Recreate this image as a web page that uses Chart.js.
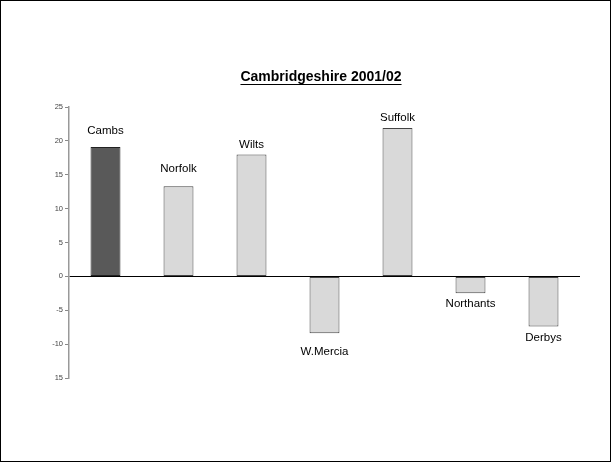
<!DOCTYPE html>
<html>
<head>
<meta charset="utf-8">
<script src="https://cdn.jsdelivr.net/npm/chart.js@4"></script>
<style>
  html, body { margin: 0; padding: 0; background: #fff; }
  #wrap { width: 611px; height: 462px; }
</style>
</head>
<body>
<div id="wrap"><canvas id="chart" width="611" height="462"></canvas></div>
<script>
// chart data
const forces = ['Cambs', 'Norfolk', 'Wilts', 'W.Mercia', 'Suffolk', 'Northants', 'Derbys'];
const values = [19.1, 13.3, 18.0, -8.4, 21.9, -2.5, -7.4];
const tickValues = [25, 20, 15, 10, 5, 0, -5, -10, -15];
const tickLabels = ['25', '20', '15', '10', '5', '0', '-5', '-10', '15'];
const chartTitle = 'Cambridgeshire 2001/02';

// gap between bar end and label centre (px)
const labelGaps = [16, 17, 10, 19, 10, 11, 11];

const decor = {
  id: 'decor',
  afterDatasetsDraw(chart) {
    const { ctx } = chart;
    const meta = chart.getDatasetMeta(0);
    ctx.save();
    ctx.font = '11.5px "Liberation Sans", Arial, sans-serif';
    ctx.fillStyle = '#000';
    ctx.textAlign = 'center';
    ctx.textBaseline = 'middle';
    meta.data.forEach((bar, i) => {
      const up = values[i] >= 0;
      const y = up ? bar.y - labelGaps[i] : bar.y + labelGaps[i];
      ctx.fillText(forces[i], bar.x, y);
    });
    // title with underline
    ctx.font = 'bold 14px "Liberation Sans", Arial, sans-serif';
    const cx = 321;
    ctx.fillText(chartTitle, cx, 77);
    const w = ctx.measureText(chartTitle).width;
    ctx.fillRect(cx - w / 2, 84, w, 1);
    // outer frame
    ctx.strokeStyle = '#000';
    ctx.lineWidth = 1;
    ctx.strokeRect(0.5, 0.5, chart.width - 1, chart.height - 1);
    ctx.restore();
  }
};

new Chart(document.getElementById('chart'), {
  type: 'bar',
  data: {
    labels: forces,
    datasets: [{
      data: values,
      backgroundColor: forces.map((f, i) => i === 0 ? '#595959' : '#d9d9d9'),
      borderColor: forces.map((f, i) => i === 0 ? '#222' : '#444'),
      borderWidth: 1,
      borderSkipped: false,
      categoryPercentage: 1,
      barPercentage: 0.41
    }]
  },
  options: {
    responsive: false,
    animation: false,
    layout: { padding: { top: 107, left: 0, right: 31, bottom: 84 } },
    scales: {
      x: { display: false },
      y: {
        min: -15, max: 25,
        afterFit: s => { s.width = 69; },
        afterBuildTicks: s => { s.ticks = tickValues.map(v => ({ value: v })); },
        border: { color: '#999', width: 1.5 },
        grid: {
          color: c => c.tick && c.tick.value === 0 ? '#000' : 'rgba(0,0,0,0)',
          tickColor: '#888',
          tickLength: 4,
          drawTicks: true
        },
        ticks: {
          color: '#444',
          padding: 2,
          font: { size: 7.5, family: '"Liberation Sans", Arial, sans-serif' },
          callback: v => tickLabels[tickValues.indexOf(v)]
        }
      }
    },
    plugins: { legend: { display: false }, tooltip: { enabled: false } }
  },
  plugins: [decor]
});
</script>
</body>
</html>
